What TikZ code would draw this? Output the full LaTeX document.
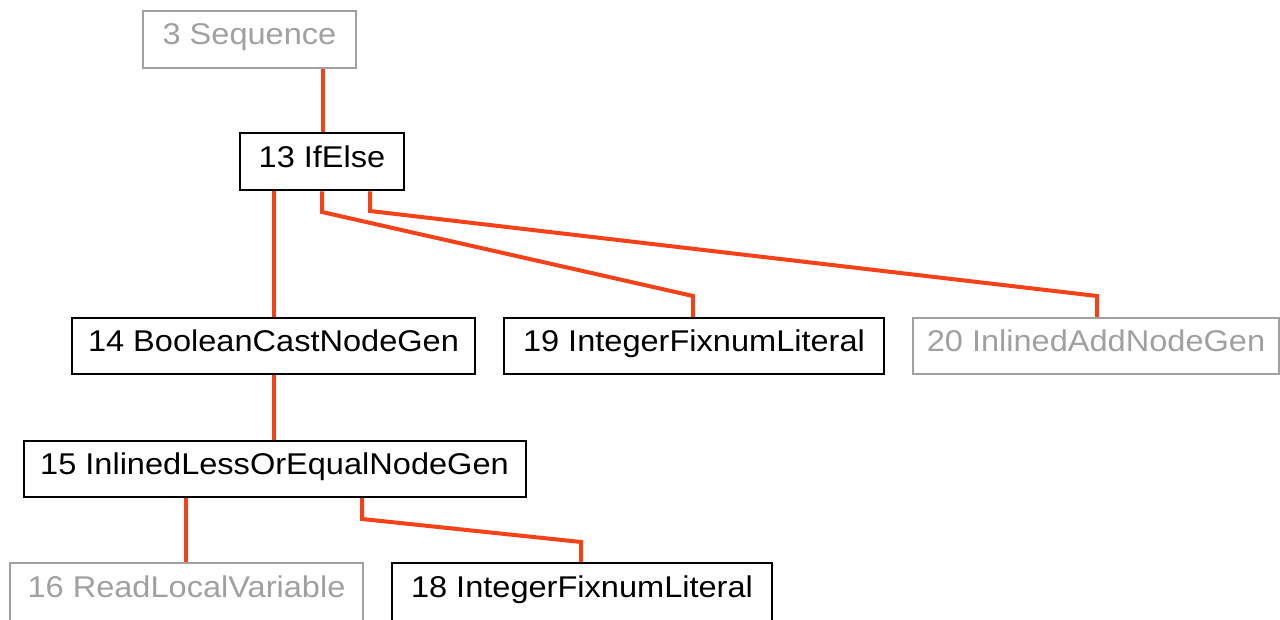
\documentclass[tikz,border=0pt]{standalone}
\usepackage{fontspec}
\setmainfont{Liberation Sans}[FakeStretch=1.085]
\definecolor{edgecol}{RGB}{244,66,24}
\definecolor{dimcol}{RGB}{160,160,160}
\begin{document}
\begin{tikzpicture}[x=1pt,y=-1pt,
  box/.style={draw=black,line width=2pt,fill=white,inner sep=0pt,text height=22pt,text depth=11pt,font=\fontsize{30}{33}\selectfont,text=black},
  dimbox/.style={box,draw=dimcol,text=dimcol},
  edge/.style={draw=edgecol,line width=4pt,line join=miter}]
\useasboundingbox[fill=white] (0,0) rectangle (1280,620);
\node[dimbox,minimum width=213pt,minimum height=57pt] (n3) at (249.5,39.5) {3 Sequence};
\node[box,minimum width=164pt,minimum height=57pt] (n13) at (322,162) {13 IfElse};
\node[box,minimum width=403pt,minimum height=56pt] (n14) at (273.5,346) {14 BooleanCastNodeGen};
\node[box,minimum width=380pt,minimum height=56pt] (n19) at (694,346) {19 IntegerFixnumLiteral};
\node[dimbox,minimum width=366pt,minimum height=56pt] (n20) at (1096,346) {20 InlinedAddNodeGen};
\node[box,minimum width=502pt,minimum height=56pt] (n15) at (274.5,469) {15 InlinedLessOrEqualNodeGen};
\node[dimbox,minimum width=353pt,minimum height=58pt] (n16) at (186.5,592) {16 ReadLocalVariable};
\node[box,minimum width=380pt,minimum height=58pt] (n18) at (582,592) {18 IntegerFixnumLiteral};
\draw[edge] (n3.south -| 323,0) -- (n13.north -| 323,0);
\draw[edge] (n13.south -| 274,0) -- (n14.north -| 274,0);
\draw[edge] (n13.south -| 322,0) -- (322,212) -- (693,296) -- (n19.north -| 693,0);
\draw[edge] (n13.south -| 370,0) -- (370,211) -- (1097,296) -- (n20.north -| 1097,0);
\draw[edge] (n14.south -| 274,0) -- (n15.north -| 274,0);
\draw[edge] (n15.south -| 186,0) -- (n16.north -| 186,0);
\draw[edge] (n15.south -| 362,0) -- (362,519) -- (581,542) -- (n18.north -| 581,0);
\end{tikzpicture}
\end{document}
